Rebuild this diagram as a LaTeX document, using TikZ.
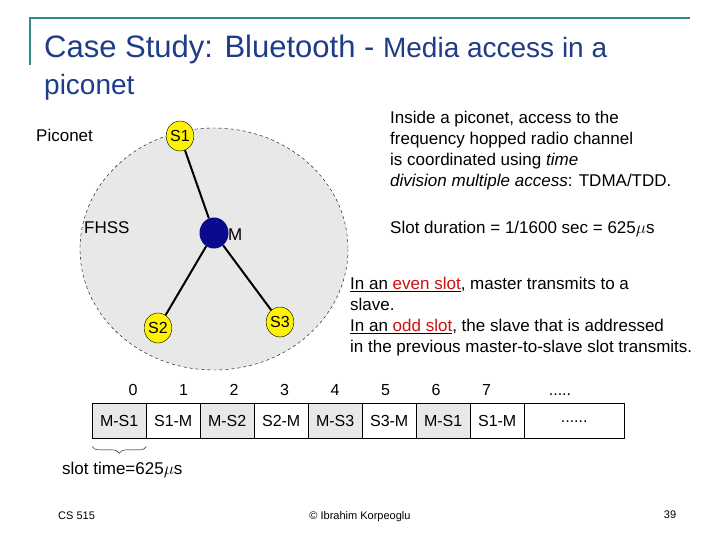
\documentclass[tikz,border=0pt]{standalone}
\usepackage{fontspec}
\setmainfont{Liberation Sans}
\usetikzlibrary{decorations.pathreplacing,shapes.geometric}
\definecolor{titleblue}{HTML}{1F3C88}
\definecolor{teal}{HTML}{2E8B8B}
\definecolor{mblue}{HTML}{0A0A8C}
\definecolor{redt}{HTML}{CC1111}
\begin{document}
\begin{tikzpicture}[x=1pt,y=-1pt,
  slave/.style={ellipse,draw=black,fill=yellow,inner sep=0pt,minimum width=26pt,minimum height=30pt,font=\fontsize{16}{16}\selectfont},
  link/.style={line width=2pt},
  txt/.style={anchor=west,font=\fontsize{17}{21}\selectfont,inner sep=0pt},
  cell/.style={draw,minimum width=54pt,minimum height=35pt,inner sep=0pt,font=\fontsize{16}{16}\selectfont,anchor=north west},
  num/.style={font=\fontsize{16}{16}\selectfont,inner sep=0pt,anchor=base},
  lbl/.style={anchor=west,inner sep=0pt,font=\fontsize{17}{17}\selectfont}]
\useasboundingbox (0,0) rectangle (720,540);
\fill[white] (0,0) rectangle (720,540);
\draw[teal,line width=1.5pt] (30,65) -- (30,18) -- (690,18);
\node[anchor=base west,inner sep=0pt,text=titleblue] (title) at (44,58) {\fontsize{31}{31}\selectfont Case Study: Bluetooth - \fontsize{28}{28}\selectfont Media access in a};
\node[anchor=base west,inner sep=0pt,text=titleblue] (title2) at (44,95) {\fontsize{28}{28}\selectfont piconet};
% piconet
\draw[dashed,fill=gray!18] (214,249) ellipse [x radius=134, y radius=121];
\node[lbl] (pic) at (36,135) {Piconet};
\node[lbl] (fhss) at (84,228) {FHSS};
\node[ellipse,fill=mblue,minimum width=29pt,minimum height=31pt,inner sep=0pt] (M) at (214,233) {};
\node[lbl] (Ml) at (228,235) {M};
\node[slave] (S1) at (180,136) {S1};
\node[slave] (S2) at (158,328) {S2};
\node[slave] (S3) at (280,322) {S3};
\draw[link] (S1) -- (M);
\draw[link] (M) -- (S2);
\draw[link] (M) -- (S3);
% text
\node[txt,anchor=north west,align=left] (t1) at (390,111) {Inside a piconet, access to the\\frequency hopped radio channel\\is coordinated using \textit{time}\\\textit{division multiple access}: TDMA/TDD.};
\node[txt] (t2) at (390,229) {Slot duration = 1/1600 sec = 625$\mu$s};
\node[txt,anchor=north west,align=left] (t3) at (350,277) {\underline{In an \textcolor{redt}{even slot}}, master transmits to a\\slave.\\\underline{In an \textcolor{redt}{odd slot}}, the slave that is addressed\\in the previous master-to-slave slot transmits.};
% table
\foreach \i/\t/\f in {0/M-S1/gray!18,1/S1-M/white,2/M-S2/gray!18,3/S2-M/white,4/M-S3/gray!18,5/S3-M/white,6/M-S1/gray!18,7/S1-M/white}{
  \node[cell,fill=\f] (c\i) at (92+\i*54,403) {\t};
  \node[num] (n\i) at (133+\i*50.5,395) {\i};
}
\node[cell,minimum width=100pt] (c8) at (524,403) {\raisebox{-3pt}{......}};
\node[num] (n8) at (560,395) {.....};
\draw[decorate,decoration={brace,amplitude=7pt,mirror}] ([yshift=-8pt]c0.south west) -- ([yshift=-8pt]c0.south east);
\node[lbl] (st) at (62,470) {slot time=625$\mu$s};
% footer
\node[anchor=west,inner sep=0pt,font=\fontsize{11}{11}\selectfont] (cs) at (58,516) {CS 515};
\node[inner sep=0pt,font=\fontsize{11}{11}\selectfont] (cp) at (360,517) {© Ibrahim Korpeoglu};
\node[inner sep=0pt,font=\fontsize{11}{11}\selectfont] (pg) at (670,515) {39};
\end{tikzpicture}
\end{document}
